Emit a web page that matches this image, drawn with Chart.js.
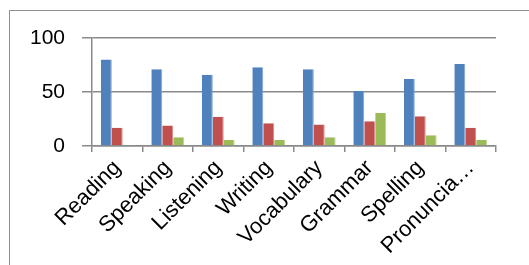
<!DOCTYPE html>
<html><head><meta charset="utf-8">
<script src="https://cdn.jsdelivr.net/npm/chart.js@4/dist/chart.umd.min.js"></script>
<style>
html,body{margin:0;padding:0;background:#fff;overflow:hidden;}
#wrap{position:relative;width:529px;height:265px;}
#frame{position:absolute;left:9px;top:10px;width:600px;height:600px;border-top:1px solid #8f8f8f;border-left:1px solid #8f8f8f;}
canvas{position:absolute;left:0;top:0;}
</style></head>
<body><div id="wrap"><div id="frame"></div><canvas id="c" width="529" height="265"></canvas></div>
<script>
const categories = ["Reading","Speaking","Listening","Writing","Vocabulary","Grammar","Spelling","Pronuncia…"];
const series1 = [80, 71, 66, 73, 71, 51, 62, 76];
const series2 = [17, 19, 27, 21, 20, 23, 27.5, 17];
const series3 = [0.4, 8, 5.5, 5.5, 8, 30.5, 10, 5.5];
const yTicks = [0, 50, 100];

const gridColor = '#8a8a8a';
new Chart(document.getElementById('c'), {
  type: 'bar',
  data: {
    labels: categories,
    datasets: [
      {data: series1, backgroundColor: '#4F81BD', borderColor: '#7fa3d2', borderWidth: {right: 1}},
      {data: series2, backgroundColor: '#C0504D', borderColor: '#d88886', borderWidth: {right: 1}},
      {data: series3, backgroundColor: '#9BBB59', borderColor: '#bcd28f', borderWidth: {right: 1}}
    ]
  },
  options: {
    responsive: false,
    animation: false,
    events: [],
    layout: {padding: {left: 0, top: 38, right: 33, bottom: 0}},
    plugins: {legend: {display: false}, tooltip: {enabled: false}},
    datasets: {bar: {categoryPercentage: 0.65, barPercentage: 1.0}},
    scales: {
      x: {
        grid: {display: true, drawOnChartArea: false, drawTicks: true, tickLength: 6, color: gridColor, lineWidth: 1.5, offset: true},
        border: {display: true, color: gridColor, width: 1.5},
        ticks: {color: '#000', font: {family: 'Liberation Sans', size: 22}, minRotation: 45, maxRotation: 45, padding: 3, autoSkip: false},
        afterFit: s => { s.height = 119; }
      },
      y: {
        min: 0, max: 100,
        afterBuildTicks: s => { s.ticks = yTicks.map(v => ({value: v})); },
        grid: {color: gridColor, lineWidth: 1.5, drawTicks: true, tickLength: 10},
        border: {display: true, color: gridColor, width: 1.5},
        ticks: {color: '#000', font: {family: 'Liberation Sans', size: 21}, padding: 17},
        afterFit: s => { s.width = 92; }
      }
    }
  }
});
</script></body></html>
